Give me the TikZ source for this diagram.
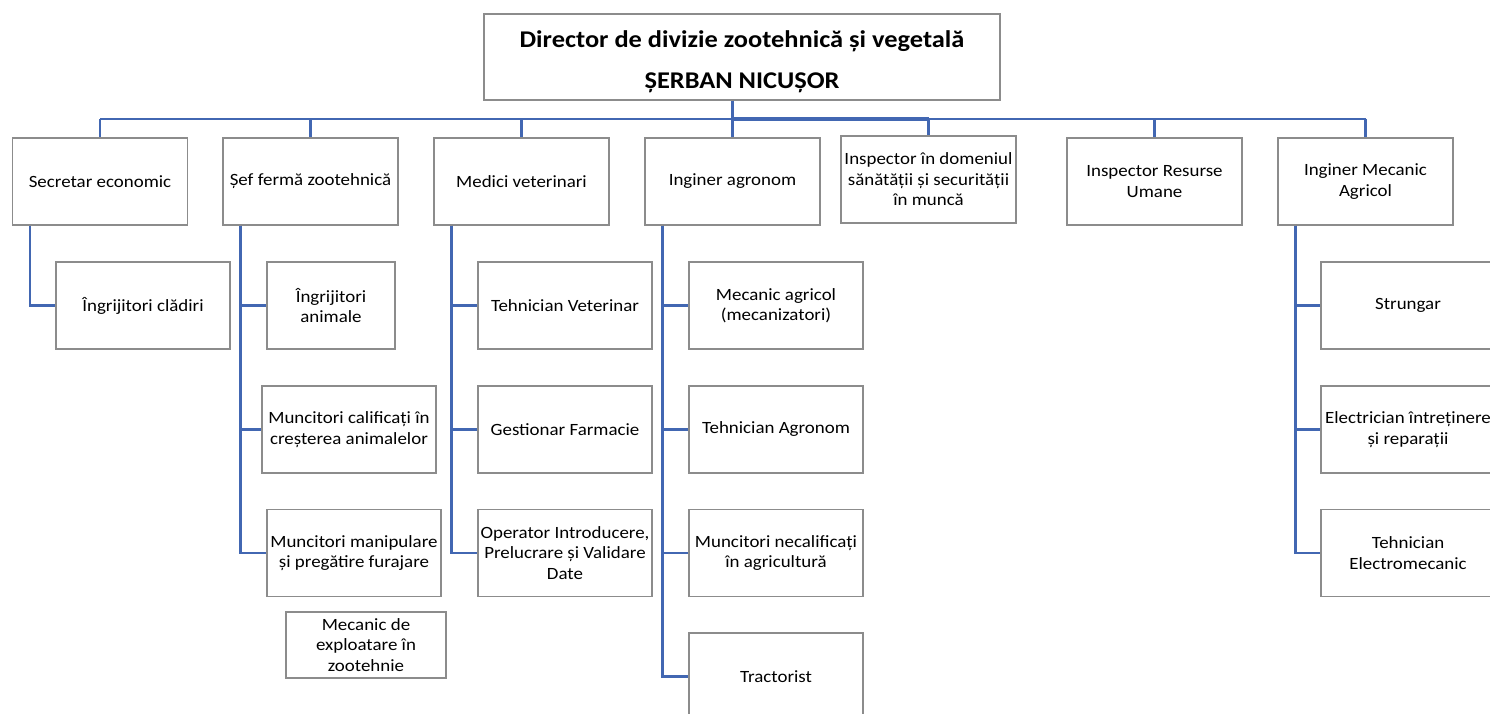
\documentclass[tikz,border=0pt]{standalone}
\usepackage{fontspec}
\setmainfont{Carlito}[FakeStretch=1.1]
\usetikzlibrary{calc}
\definecolor{boxgray}{RGB}{140,140,140}
\definecolor{linkblue}{RGB}{66,103,178}
\begin{document}
\begin{tikzpicture}[x=1pt,y=-1pt,
  orgbox/.style={draw=boxgray,line width=1.3pt,fill=white,inner sep=0pt,align=center,
    minimum width=175pt,minimum height=87pt,font=\fontsize{17.2}{20.5}\selectfont},
  link/.style={draw=linkblue,line width=2.4pt},
  headbox/.style={draw=boxgray,line width=1.3pt,fill=white,inner sep=0pt,align=center,
    minimum width=516pt,minimum height=86pt,font=\fontsize{24}{41}\selectfont\bfseries}]
\useasboundingbox (0,0) rectangle (1490,714);
\clip (0,0) rectangle (1490,714);
\fill[white] (0,0) rectangle (1490,714);

% director
\node[headbox] (dir) at (742,57) {\rule{0pt}{26pt}Director de divizie zootehnică și vegetală\\ȘERBAN NICUȘOR};

% level 1
\node[orgbox] (sec) at (100,181.5) {Secretar economic};
\node[orgbox] (sef) at (310.5,181.5) {Șef fermă zootehnică};
\node[orgbox] (med) at (521.5,181.5) {Medici veterinari};
\node[orgbox] (ing) at (732.5,181.5) {Inginer agronom};
\node[orgbox] (insp) at (928.5,179.5) {Inspector în domeniul\\sănătății și securității\\în muncă};
\node[orgbox] (ru) at (1154.5,181.5) {Inspector Resurse\\Umane};
\node[orgbox] (mec) at (1365.5,181.5) {Inginer Mecanic\\Agricol};

% level 2
\node[orgbox,minimum width=174pt] (ingcl) at (143,305.5) {Îngrijitori clădiri};
\node[orgbox,minimum width=128pt] (ingan) at (331,305.5) {Îngrijitori\\animale};
\node[orgbox,minimum width=174pt] (muncal) at (349,429.5) {Muncitori calificați în\\creșterea animalelor};
\node[orgbox,minimum width=174pt] (munman) at (354,553) {Muncitori manipulare\\și pregătire furajare};
\node[orgbox,minimum width=160pt,minimum height=66pt] (mecexp) at (366,645) {Mecanic de\\exploatare în\\zootehnie};

\node[orgbox,minimum width=174pt] (tehvet) at (565,305.5) {Tehnician Veterinar};
\node[orgbox,minimum width=174pt] (gest) at (565,429.5) {Gestionar Farmacie};
\node[orgbox,minimum width=174pt] (oper) at (565,553) {Operator Introducere,\\Prelucrare și Validare\\Date};

\node[orgbox,minimum width=174pt] (mecagr) at (776,305.5) {Mecanic agricol\\(mecanizatori)};
\node[orgbox,minimum width=174pt] (tehagr) at (776,429.5) {Tehnician Agronom};
\node[orgbox,minimum width=174pt] (munnec) at (776,553) {Muncitori necalificați\\în agricultură};
\node[orgbox,minimum width=174pt] (tract) at (776,676.5) {Tractorist};

\node[orgbox,minimum width=174pt] (strung) at (1408,305.5) {Strungar};
\node[orgbox,minimum width=174pt] (electr) at (1408,429.5) {Electrician întreținere\\și reparații};
\node[orgbox,minimum width=174pt] (tehel) at (1408,553) {Tehnician\\Electromecanic};

% bus
\coordinate (bus) at (0,119);
\draw[link] (sec.north |- bus) -- (mec.north |- bus);
\draw[link,line width=4pt] (ing.north |- bus) -- (insp.north |- bus);
\draw[link] (dir.south -| ing.north) -- (ing.north);
\foreach \c in {sec,sef,med,insp,ru,mec}{
  \draw[link] (\c.north |- bus) -- (\c.north);
}

% trunks
\coordinate (tsec) at ($(sec.south west)+(18,0)$);
\coordinate (tsef) at ($(sef.south west)+(18,0)$);
\coordinate (tmed) at ($(med.south west)+(18,0)$);
\coordinate (ting) at ($(ing.south west)+(18,0)$);
\coordinate (tmec) at ($(mec.south west)+(18,0)$);

\draw[link] (tsec) |- (ingcl.west);
\draw[link] (tsef) |- (munman.west);
\draw[link] (tsef) |- (ingan.west);
\draw[link] (tsef) |- (muncal.west);
\draw[link] (tmed) |- (oper.west);
\draw[link] (tmed) |- (tehvet.west);
\draw[link] (tmed) |- (gest.west);
\draw[link] (ting) |- (tract.west);
\draw[link] (ting) |- (mecagr.west);
\draw[link] (ting) |- (tehagr.west);
\draw[link] (ting) |- (munnec.west);
\draw[link] (tmec) |- (tehel.west);
\draw[link] (tmec) |- (strung.west);
\draw[link] (tmec) |- (electr.west);
\end{tikzpicture}
\end{document}
